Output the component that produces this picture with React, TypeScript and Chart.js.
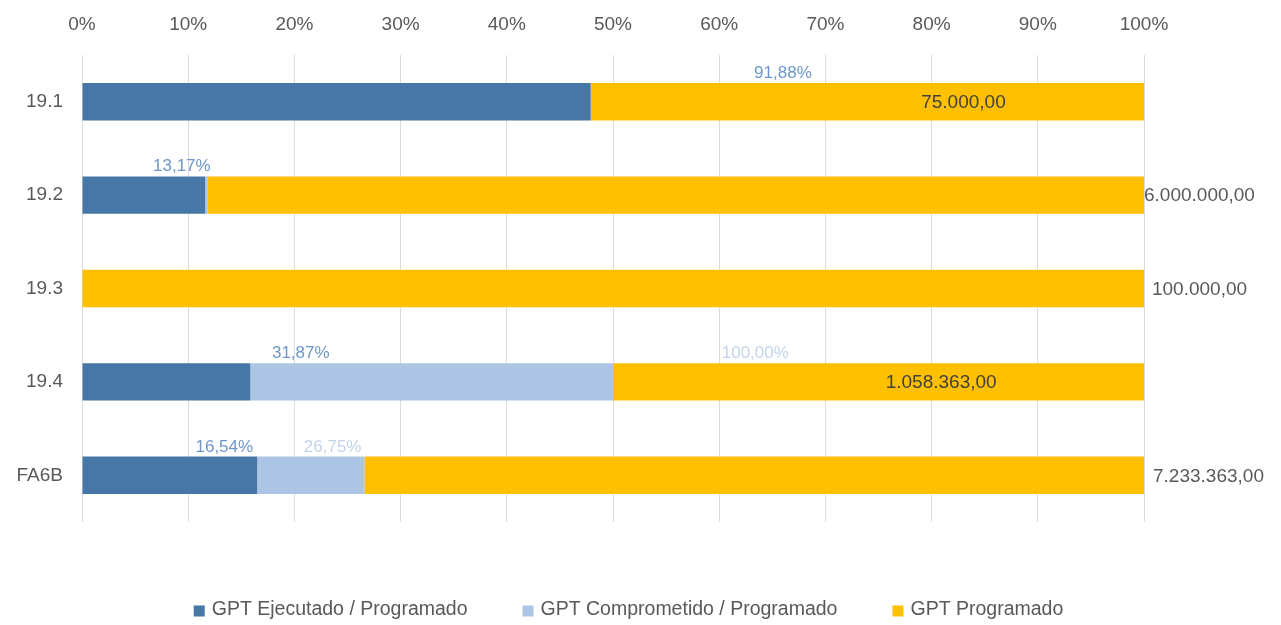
import React, { useEffect, useRef } from "react";
import { Chart, registerables } from "chart.js";

Chart.register(...registerables);

// ---- data ----
const categories = ["19.1", "19.2", "19.3", "19.4", "FA6B"];
const seriesNames = [
  "GPT Ejecutado / Programado",
  "GPT Comprometido / Programado",
  "GPT Programado",
];
// share of each bar (percent of 100%)
const executedShare = [47.9, 11.6, 0, 15.85, 16.5];
const committedShare = [0, 0.25, 0, 34.15, 10.1];
const programmedShare = [52.1, 88.15, 100, 50, 73.4];

const xTickMax = 100;
const xTickStep = 10;

// data labels (text) and where they sit along the % axis
const executedLabels = ["91,88%", "13,17%", "", "31,87%", "16,54%"];
const executedLabelAt = [66.0, 9.4, null, 20.6, 13.4];
const committedLabels = ["", "", "", "100,00%", "26,75%"];
const committedLabelAt = [null, null, null, 63.4, 23.6];
const programmedLabels = ["75.000,00", "6.000.000,00", "100.000,00", "1.058.363,00", "7.233.363,00"];
const programmedLabelAt = [83.0, 100, 100.75, 80.9, 100.85];
const programmedLabelInside = [true, false, false, true, false];

// ---- styles ----
const FONT = "'Liberation Sans', Arial, sans-serif";
const C_EXEC = "#4677A7";
const C_COMM = "#ACC5E4";
const C_PROG = "#FFC000";
const C_TEXT = "#595959";

const labelsPlugin = {
  id: "customLabels",
  afterDatasetsDraw(chart: any) {
    const ctx = chart.ctx;
    const xs = chart.scales.x;
    const meta = chart.getDatasetMeta(0);
    ctx.save();
    categories.forEach((_, i) => {
      const bar = meta.data[i] as any;
      const cy = bar.y;
      const top = cy - bar.height / 2;
      // percent labels above bar
      ctx.font = `17px ${FONT}`;
      ctx.textAlign = "center";
      ctx.textBaseline = "alphabetic";
      if (executedLabels[i] && executedLabelAt[i] !== null) {
        ctx.fillStyle = "#6E97C8";
        ctx.fillText(executedLabels[i], xs.getPixelForValue(executedLabelAt[i] as number), top - 5);
      }
      if (committedLabels[i] && committedLabelAt[i] !== null) {
        ctx.fillStyle = "#C2D4EC";
        ctx.fillText(committedLabels[i], xs.getPixelForValue(committedLabelAt[i] as number), top - 5);
      }
      // programmed values
      ctx.font = `19px ${FONT}`;
      ctx.textBaseline = "middle";
      if (programmedLabelInside[i]) {
        ctx.textAlign = "center";
        ctx.fillStyle = "#404040";
      } else {
        ctx.textAlign = "left";
        ctx.fillStyle = C_TEXT;
      }
      ctx.fillText(programmedLabels[i], xs.getPixelForValue(programmedLabelAt[i]), cy + 1);
    });
    ctx.restore();
  },
};

const legendPlugin = {
  id: "customLegend",
  afterDraw(chart: any) {
    const ctx = chart.ctx;
    const box = 11;
    const gapBoxText = 7;
    const gapItems = 55;
    const cy = 610;
    const centerX = 628.5;
    ctx.save();
    ctx.font = `19.5px ${FONT}`;
    const items = chart.data.datasets.map((d: any) => ({
      text: d.label as string,
      color: d.backgroundColor as string,
      w: ctx.measureText(d.label).width,
    }));
    let total = 0;
    items.forEach((it: any, k: number) => {
      total += box + gapBoxText + it.w + (k < items.length - 1 ? gapItems : 0);
    });
    let x = centerX - total / 2;
    ctx.textBaseline = "middle";
    ctx.textAlign = "left";
    items.forEach((it: any) => {
      ctx.fillStyle = it.color;
      ctx.fillRect(x, cy - box / 2 + 1, box, box);
      x += box + gapBoxText;
      ctx.fillStyle = C_TEXT;
      ctx.fillText(it.text, x, cy);
      x += it.w + gapItems;
    });
    ctx.restore();
  },
};

export default function App() {
  const ref = useRef<HTMLCanvasElement | null>(null);

  useEffect(() => {
    if (!ref.current) return;
    const chart = new Chart(ref.current, {
      type: "bar",
      data: {
        labels: categories,
        datasets: [
          { label: seriesNames[0], data: executedShare, backgroundColor: C_EXEC },
          { label: seriesNames[1], data: committedShare, backgroundColor: C_COMM },
          { label: seriesNames[2], data: programmedShare, backgroundColor: C_PROG },
        ],
      },
      options: {
        indexAxis: "y",
        animation: false,
        responsive: true,
        maintainAspectRatio: false,
        layout: { padding: { top: 0, right: 137, bottom: 103, left: 0 } },
        datasets: {
          bar: { barPercentage: 0.4, categoryPercentage: 1, borderWidth: 0 },
        },
        plugins: {
          legend: { display: false },
          tooltip: { enabled: false },
        },
        scales: {
          x: {
            position: "top",
            stacked: true,
            min: 0,
            max: xTickMax,
            ticks: {
              stepSize: xTickStep,
              padding: 19,
              color: C_TEXT,
              font: { family: FONT, size: 19 },
              callback: (v: any) => `${v}%`,
            },
            grid: { color: "#DCDCDC", lineWidth: 1, drawTicks: false },
            border: { display: false },
            afterFit: (s: any) => {
              s.height = 55;
            },
          },
          y: {
            stacked: true,
            ticks: {
              padding: 19,
              color: C_TEXT,
              font: { family: FONT, size: 19 },
            },
            grid: { display: false, drawTicks: false },
            border: { display: false },
            afterFit: (s: any) => {
              s.width = 82;
            },
          },
        },
      },
      plugins: [labelsPlugin, legendPlugin],
    } as any);
    return () => chart.destroy();
  }, []);

  return (
    <div style={{ position: "fixed", left: 0, top: 0, width: 1281, height: 625, background: "#fff" }}>
      <canvas ref={ref} />
    </div>
  );
}
